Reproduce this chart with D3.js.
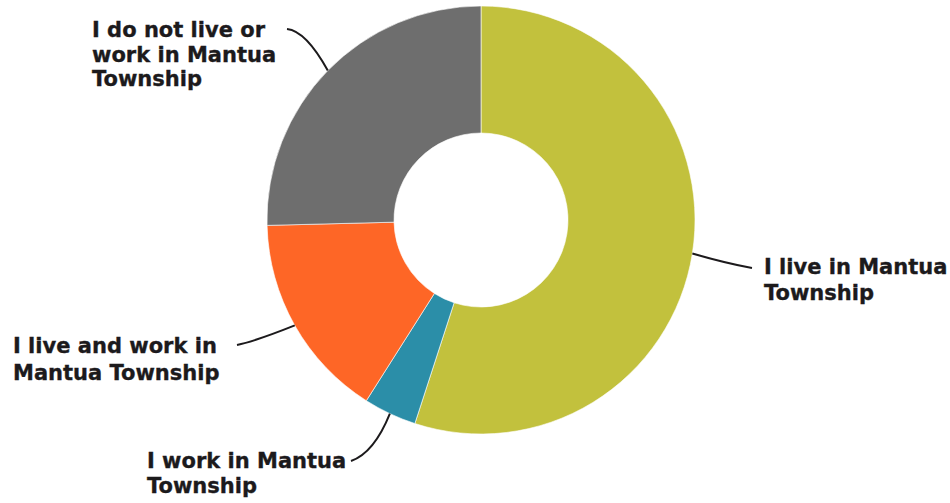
<!DOCTYPE html>
<html>
<head>
<meta charset="utf-8">
<script src="https://cdn.jsdelivr.net/npm/d3@7"></script>
<style>
  html, body { margin: 0; padding: 0; background: #fff; }
  svg { display: block; }
  text { font-family: "DejaVu Sans", Verdana, sans-serif; font-weight: bold; fill: #1c1a1c; stroke: #1c1a1c; stroke-width: 0.35px; }
</style>
</head>
<body>
<svg id="chart" width="950" height="503"></svg>
<script>
// Data (order clockwise from 12 o'clock)
const categories = [
  "I live in Mantua Township",
  "I work in Mantua Township",
  "I live and work in Mantua Township",
  "I do not live or work in Mantua Township"
];
const values = [55.0, 4.0, 15.6, 25.4];
const labelLines = [
  ["I live in Mantua", "Township"],
  ["I work in Mantua", "Township"],
  ["I live and work in", "Mantua Township"],
  ["I do not live or", "work in Mantua", "Township"]
];
const colors = ["#c2c13d", "#2b8ea8", "#fe6626", "#6e6e6e"];

const svg = d3.select("#chart");
const cx = 481, cy = 220, outerR = 214, innerR = 87;

const pie = d3.pie().sort(null).value(d => d.value);
const data = categories.map((c, i) => ({ name: c, value: values[i], color: colors[i], lines: labelLines[i] }));
const arcs = pie(data);

const arc = d3.arc().innerRadius(innerR).outerRadius(outerR);

const g = svg.append("g").attr("transform", `translate(${cx},${cy})`);
g.selectAll("path.slice")
  .data(arcs)
  .join("path")
  .attr("class", "slice")
  .attr("d", arc)
  .attr("fill", d => d.data.color)
  .attr("stroke", "#ffffff")
  .attr("stroke-width", 0.6);

// Label layout: text anchor position, leader end, control point
const layout = [
  { tx: 764, ty: 274, lh: 26, end: [752, 268], ctrl: [725, 263] },
  { tx: 147, ty: 468, lh: 25, end: [351, 461], ctrl: [374, 453] },
  { tx: 13,  ty: 353, lh: 27, end: [237, 345], ctrl: [256, 341] },
  { tx: 92,  ty: 37,  lh: 24.5, end: [287, 29], ctrl: [306, 31] }
];

const leaders = svg.append("g");
arcs.forEach((a, i) => {
  const mid = (a.startAngle + a.endAngle) / 2;
  const sx = cx + Math.sin(mid) * outerR;
  const sy = cy - Math.cos(mid) * outerR;
  const L = layout[i];
  const p = d3.path();
  p.moveTo(sx, sy);
  p.quadraticCurveTo(L.ctrl[0], L.ctrl[1], L.end[0], L.end[1]);
  leaders.append("path")
    .attr("d", p.toString())
    .attr("fill", "none")
    .attr("stroke", "#1c1a1c")
    .attr("stroke-width", 2);

  const t = svg.append("text")
    .attr("x", L.tx)
    .attr("y", L.ty)
    .style("font-size", "21px");
  a.data.lines.forEach((ln, j) => {
    t.append("tspan").attr("x", L.tx).attr("y", L.ty + j * L.lh).text(ln);
  });
});
</script>
</body>
</html>
